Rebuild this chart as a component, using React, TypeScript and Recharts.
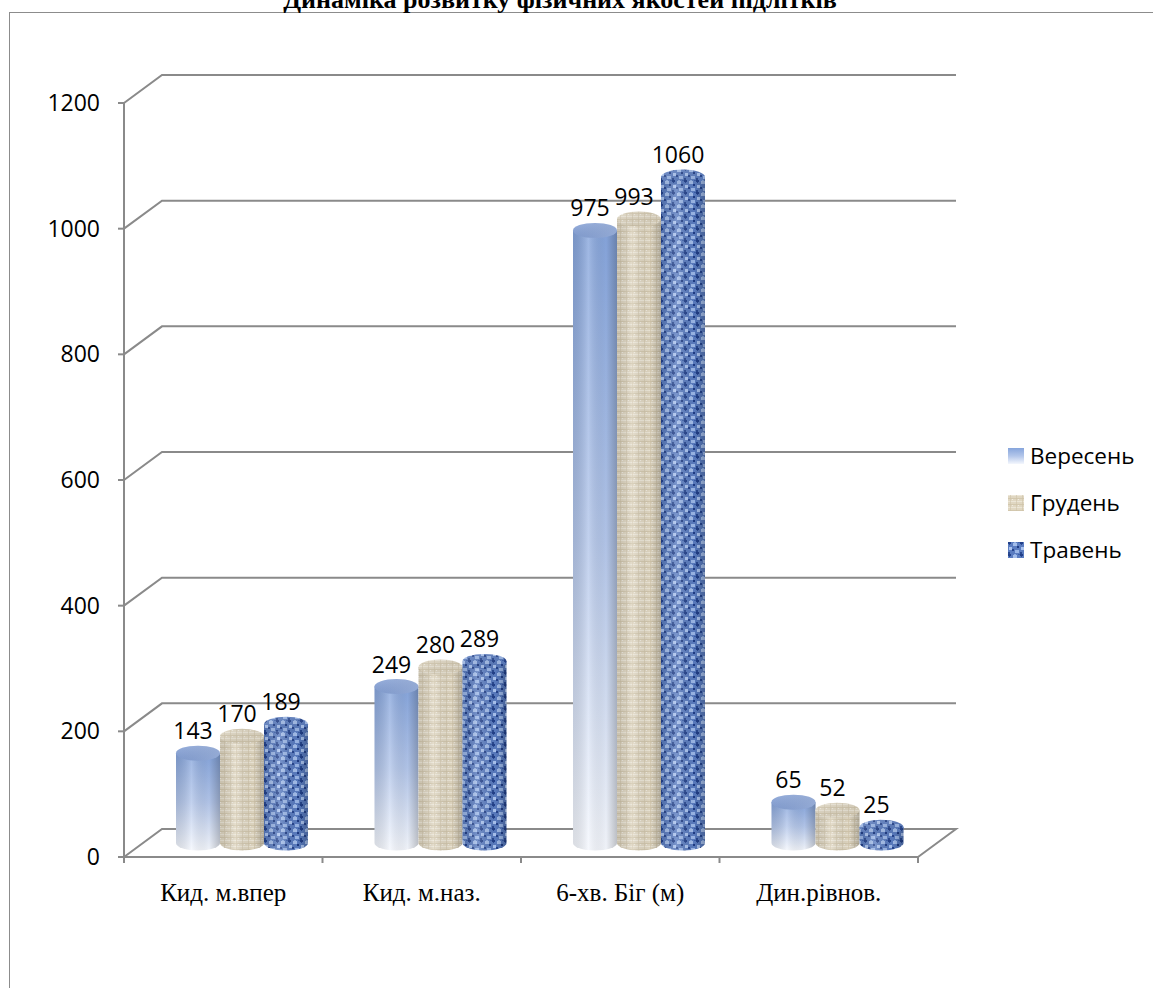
import { BarChart, Bar, XAxis, YAxis, CartesianGrid, Legend, LabelList } from "recharts";

const categories = ["Кид. м.впер", "Кид. м.наз.", "6-хв. Біг (м)", "Дин.рівнов."];
const september = [143, 249, 975, 65];
const december = [170, 280, 993, 52];
const may = [189, 289, 1060, 25];
const seriesNames = ["Вересень", "Грудень", "Травень"];
const yTicks = [0, 200, 400, 600, 800, 1000, 1200];

const data = categories.map((name, i) => ({
  name,
  sep: september[i],
  dec: december[i],
  may: may[i],
}));

// depth offsets of the fake 3d box
const MID_DX = 19;
const MID_DY = -14;
const BACK_DX = 38;
const BACK_DY = -28;
const GRID = "#8a8a8a";

const fills = ["url(#sepBody)", "url(#decTex)", "url(#mayTex)"];
const tops = ["url(#sepTop)", "url(#decTex)", "url(#mayTex)"];

function Cylinder(props: any) {
  const { x, y, width, height, idx } = props;
  if (height == null || isNaN(height)) return null;
  const left = x + MID_DX;
  const top = y + MID_DY;
  const bottom = top + height;
  const rx = width / 2;
  const ry = width * 0.17;
  const body = `M${left},${top} L${left},${bottom} A${rx},${ry} 0 0 0 ${left + width},${bottom} L${left + width},${top} Z`;
  return (
    <g>
      <path d={body} fill={fills[idx]} />
      <path d={body} fill="url(#shade)" />
      <ellipse cx={left + rx} cy={top} rx={rx} ry={ry} fill={tops[idx]} />
      <ellipse cx={left + rx} cy={top} rx={rx} ry={ry} fill="url(#topShade)" />
    </g>
  );
}

function ValueLabel(props: any) {
  const { x, y, width, value } = props;
  return (
    <text
      x={x + width / 2 + MID_DX - 5}
      y={y + MID_DY - 23}
      textAnchor="middle"
      dominantBaseline="central"
      fontFamily="'Open Sans', sans-serif"
      fontSize={23}
      fill="#000"
    >
      {value}
    </text>
  );
}

function gridLine(props: any) {
  const { x1, y1, x2, y2, y, height, index } = props;
  let d = `M${x1},${y1} L${x1 + BACK_DX},${y1 + BACK_DY} L${x2 + BACK_DX},${y2 + BACK_DY}`;
  if (Math.abs(y1 - (y + height)) < 1) d += ` L${x2},${y2}`;
  return <path key={`g${index}`} d={d} fill="none" stroke={GRID} strokeWidth={2} />;
}

function CategoryTick(props: any) {
  const { x, y, payload, index } = props;
  const band = 794 / categories.length;
  return (
    <g>
      <line x1={x - band / 2} y1={y - 8} x2={x - band / 2} y2={y - 2} stroke={GRID} strokeWidth={2} />
      {index === categories.length - 1 && (
        <line x1={x + band / 2} y1={y - 8} x2={x + band / 2} y2={y - 2} stroke={GRID} strokeWidth={2} />
      )}
      <text
        x={x}
        y={y + 27}
        textAnchor="middle"
        dominantBaseline="central"
        fontFamily="'Liberation Serif', 'Times New Roman', serif"
        fontSize={25}
        fill="#000"
      >
        {payload.value}
      </text>
    </g>
  );
}

function LegendBox() {
  return (
    <div style={{ fontFamily: "'Open Sans', sans-serif", fontSize: 22.5, color: "#000" }}>
      {seriesNames.map((n, i) => (
        <div key={n} style={{ display: "flex", alignItems: "center", height: 47 }}>
          <svg width={16} height={16} style={{ marginRight: 6 }}>
            <rect x={0} y={0} width={16} height={16} fill={fills[i]} />
          </svg>
          <span>{n}</span>
        </div>
      ))}
    </div>
  );
}

export default function App() {
  return (
    <div style={{ position: "absolute", left: 0, top: 0, width: 1153, height: 988, background: "#fff", overflow: "hidden" }}>
      <div
        style={{
          position: "absolute",
          left: 9,
          top: 12,
          width: 1160,
          height: 990,
          borderLeft: "1.5px solid #8c8c8c",
          borderTop: "1.5px solid #8c8c8c",
        }}
      />
      <svg width={1153} height={20} style={{ position: "absolute", left: 0, top: 0 }}>
        <text
          x={560}
          y={8}
          textAnchor="middle"
          fontFamily="'Liberation Serif', 'Times New Roman', serif"
          fontWeight="bold"
          fontSize={26}
          fill="#000"
        >
          Динаміка розвитку фізичних якостей підлітків
        </text>
      </svg>
      <div style={{ position: "absolute", left: 0, top: 0 }}>
        <BarChart
          width={1153}
          height={988}
          data={data}
          margin={{ top: 103, right: 235, bottom: 71, left: 0 }}
          barGap={0}
          barSize={44}
        >
          <defs>
            <linearGradient id="sepBody" x1="0" y1="0" x2="0" y2="1">
              <stop offset="0" stopColor="#86a5dc" />
              <stop offset="0.5" stopColor="#b3c6ea" />
              <stop offset="1" stopColor="#f4f7fd" />
            </linearGradient>
            <linearGradient id="sepTop" x1="0" y1="0" x2="1" y2="0">
              <stop offset="0" stopColor="#7f9dd6" />
              <stop offset="1" stopColor="#9db5e3" />
            </linearGradient>
            <linearGradient id="shade" x1="0" y1="0" x2="1" y2="0">
              <stop offset="0" stopColor="#000" stopOpacity={0.1} />
              <stop offset="0.35" stopColor="#fff" stopOpacity={0.2} />
              <stop offset="0.75" stopColor="#000" stopOpacity={0.02} />
              <stop offset="1" stopColor="#000" stopOpacity={0.22} />
            </linearGradient>
            <linearGradient id="topShade" x1="0" y1="0" x2="1" y2="1">
              <stop offset="0" stopColor="#fff" stopOpacity={0.2} />
              <stop offset="1" stopColor="#000" stopOpacity={0.05} />
            </linearGradient>
            <pattern id="decTex" width={6} height={6} patternUnits="userSpaceOnUse">
              <rect width={6} height={6} fill="#e0d7c2" />
              <rect x={0} y={0} width={6} height={1} fill="#ece6d7" />
              <rect x={0} y={3} width={6} height={1} fill="#d3c8ae" />
              <rect x={2} y={0} width={1} height={6} fill="#cfc3a8" opacity={0.6} />
              <rect x={4} y={4} width={1} height={1} fill="#f1ece1" />
            </pattern>
            <pattern id="mayTex" width={12} height={12} patternUnits="userSpaceOnUse">
              <rect width={12} height={12} fill="#5a7cc0" />
              <rect x={0} y={0} width={3} height={2} fill="#22408a" />
              <rect x={1} y={2} width={1} height={1} fill="#2b4b95" />
              <rect x={5} y={1} width={4} height={3} fill="#a3bdea" />
              <rect x={6} y={0} width={2} height={1} fill="#8eaee3" />
              <rect x={9} y={4} width={2} height={2} fill="#1f3c84" />
              <rect x={1} y={5} width={3} height={3} fill="#aac3ef" />
              <rect x={4} y={7} width={2} height={2} fill="#26448d" />
              <rect x={7} y={8} width={4} height={3} fill="#9ab6e7" />
              <rect x={0} y={10} width={2} height={2} fill="#2a4991" />
              <rect x={10} y={0} width={2} height={1} fill="#3b5ea8" />
            </pattern>
          </defs>
          <CartesianGrid horizontal={gridLine} vertical={false} />
          <XAxis
            dataKey="name"
            axisLine={{ stroke: GRID, strokeWidth: 2 }}
            tickLine={false}
            tick={<CategoryTick />}
            height={60}
            interval={0}
          />
          <YAxis
            domain={[0, 1200]}
            ticks={yTicks}
            width={124}
            axisLine={{ stroke: GRID, strokeWidth: 2 }}
            tickLine={{ stroke: GRID, strokeWidth: 2 }}
            tickSize={6}
            tickMargin={18}
            tick={{ fontFamily: "'Open Sans', sans-serif", fontSize: 23, fill: "#000" }}
          />
          <Legend
            layout="vertical"
            align="center"
            verticalAlign="middle"
            content={<LegendBox />}
            wrapperStyle={{ left: 1008, top: 432, width: 145 }}
          />
          <Bar dataKey="sep" name={seriesNames[0]} fill="#8ea8da" isAnimationActive={false} shape={(p: any) => <Cylinder {...p} idx={0} />}>
            <LabelList dataKey="sep" content={<ValueLabel />} />
          </Bar>
          <Bar dataKey="dec" name={seriesNames[1]} fill="#dcd2bb" isAnimationActive={false} shape={(p: any) => <Cylinder {...p} idx={1} />}>
            <LabelList dataKey="dec" content={<ValueLabel />} />
          </Bar>
          <Bar dataKey="may" name={seriesNames[2]} fill="#5577bd" isAnimationActive={false} shape={(p: any) => <Cylinder {...p} idx={2} />}>
            <LabelList dataKey="may" content={<ValueLabel />} />
          </Bar>
        </BarChart>
      </div>
    </div>
  );
}
